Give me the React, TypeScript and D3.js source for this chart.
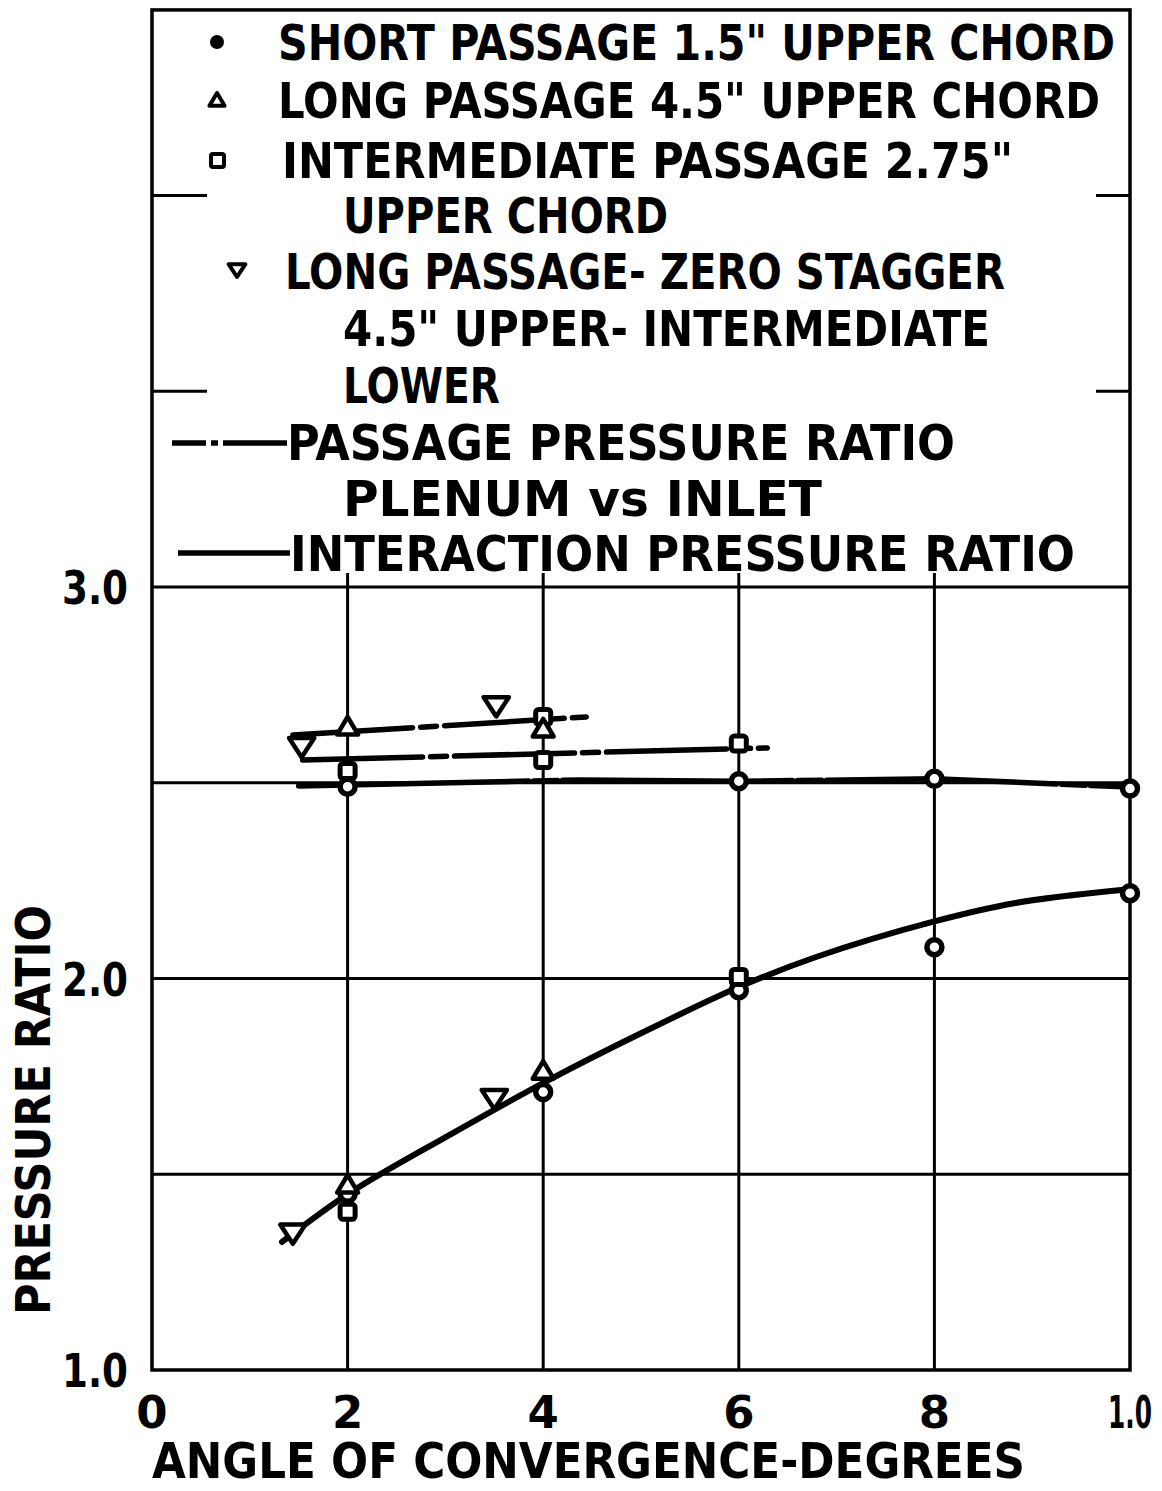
import React from "react";
import * as d3 from "d3";

// axis ticks
const xTicks = [0, 2, 4, 6, 8, 10];
const xTickLabels = ["0", "2", "4", "6", "8", "1.0"];
const yTicks = [1, 2, 3];
const yTickLabels = ["1.0", "2.0", "3.0"];
const yGrid = [1.5, 2, 2.5, 3];
const upperTicks = [3.5, 4.0];
const yTop = 4.474;

// measured points [angle, pressure ratio]
const shortPassage = [
  [2, 2.49], [6, 2.504], [8, 2.51], [10, 2.485],
  [2, 1.45], [4, 1.71], [6, 1.97], [8, 2.08], [10, 2.218],
];
const longPassage = [[2, 2.64], [4, 2.635], [2, 1.47], [4, 1.761]];
const intermediatePassage = [
  [2, 2.53], [4, 2.668], [4, 2.558], [6, 2.6], [2, 1.404], [6, 2.004],
];
const zeroStagger = [[1.53, 2.596], [3.52, 2.7], [1.44, 1.353], [3.5, 1.697]];

// passage pressure ratio (plenum vs inlet) lines
const passageLong = [[1.44, 2.622], [4.44, 2.668]];
const passageIntermediate = [[1.54, 2.558], [6.29, 2.589]];
const passageShort = [[1.5, 2.492], [4.37, 2.507], [6, 2.504], [8, 2.51], [10, 2.489]];

// interaction pressure ratio curve
const interaction = [
  [1.33, 1.327], [2.02, 1.452], [3.04, 1.6], [4.06, 1.741], [5.0, 1.86],
  [6.0, 1.978], [6.79, 2.055], [7.97, 2.144], [8.83, 2.193], [9.91, 2.226],
];

const legendRows = [
  { text: "SHORT PASSAGE 1.5\" UPPER CHORD", x: 278, y: 60, len: 837, mark: "circle" },
  { text: "LONG PASSAGE 4.5\" UPPER CHORD", x: 278, y: 118, len: 822, mark: "tri" },
  { text: "INTERMEDIATE PASSAGE  2.75\"", x: 282, y: 178, len: 731, mark: "square" },
  { text: "UPPER CHORD", x: 343, y: 233, len: 325 },
  { text: "LONG PASSAGE- ZERO STAGGER", x: 285, y: 289, len: 720, mark: "triDown" },
  { text: "4.5\" UPPER- INTERMEDIATE", x: 343, y: 346, len: 647 },
  { text: "LOWER", x: 343, y: 403, len: 157 },
  { text: "PASSAGE  PRESSURE  RATIO", x: 287, y: 460, len: 668, mark: "dash" },
  { text: "PLENUM  vs INLET", x: 343, y: 516, len: 479 },
  { text: "INTERACTION  PRESSURE  RATIO", x: 290, y: 571, len: 785, mark: "solid" },
];

const FONT = "'DejaVu Sans Condensed', 'DejaVu Sans', sans-serif";
const ink = "#000";

const triUp = (cx: number, cy: number, s: number) =>
  `M${cx},${cy - s} L${cx + s * 0.95},${cy + s * 0.6} L${cx - s * 0.95},${cy + s * 0.6} Z`;
const triDown = (cx: number, cy: number, s: number) =>
  `M${cx - s * 1.05},${cy - s * 0.6} L${cx + s * 1.05},${cy - s * 0.6} L${cx},${cy + s} Z`;

export default function App() {
  const x = d3.scaleLinear().domain([0, 10]).range([152, 1130]);
  const y = d3.scaleLinear().domain([1, 3]).range([1370, 587]);
  const line = d3.line<number[]>().x((d) => x(d[0])).y((d) => y(d[1]));
  const smooth = d3
    .line<number[]>()
    .x((d) => x(d[0]))
    .y((d) => y(d[1]))
    .curve(d3.curveCatmullRom.alpha(0.5));

  const top = y(yTop);
  const dashDot = "120,8,16,8";

  return (
    <svg
      width={1162}
      height={1491}
      style={{ position: "absolute", left: 0, top: 0, background: "#fff" }}
    >
      <rect width={1162} height={1491} fill="#fff" />

      {/* frame */}
      <rect
        x={x(0)}
        y={top}
        width={x(10) - x(0)}
        height={y(1) - top}
        fill="none"
        stroke={ink}
        strokeWidth={3.5}
      />

      {/* grid */}
      {yGrid.map((v) => (
        <line key={"h" + v} x1={x(0)} x2={x(10)} y1={y(v)} y2={y(v)} stroke={ink} strokeWidth={3} />
      ))}
      {xTicks.slice(1, -1).map((v) => (
        <line key={"v" + v} x1={x(v)} x2={x(v)} y1={y(1)} y2={y(3) - 14} stroke={ink} strokeWidth={3} />
      ))}
      {upperTicks.map((v) => (
        <g key={"t" + v}>
          <line x1={x(0)} x2={x(0) + 55} y1={y(v)} y2={y(v)} stroke={ink} strokeWidth={3} />
          <line x1={x(10) - 34} x2={x(10)} y1={y(v)} y2={y(v)} stroke={ink} strokeWidth={3} />
        </g>
      ))}

      {/* passage pressure ratio lines */}
      {[passageLong, passageIntermediate, passageShort].map((d, i) => (
        <path
          key={"p" + i}
          d={line(d) || ""}
          fill="none"
          stroke={ink}
          strokeWidth={5.5}
          strokeLinecap="round"
          strokeDasharray={i === 2 ? "230,5,24,5" : dashDot}
        />
      ))}

      {/* interaction curve */}
      <path d={smooth(interaction) || ""} fill="none" stroke={ink} strokeWidth={6} strokeLinecap="round" />

      {/* markers */}
      {shortPassage.map((d, i) => (
        <circle key={"c" + i} cx={x(d[0])} cy={y(d[1])} r={7.5} fill="#fff" stroke={ink} strokeWidth={5.5} />
      ))}
      {intermediatePassage.map((d, i) => (
        <rect key={"s" + i} x={x(d[0]) - 7.5} y={y(d[1]) - 7.5} width={15} height={15} rx={3} fill="#fff" stroke={ink} strokeWidth={5} />
      ))}
      {longPassage.map((d, i) => (
        <path key={"u" + i} d={triUp(x(d[0]), y(d[1]), 11)} fill="#fff" stroke={ink} strokeWidth={4.5} strokeLinejoin="round" />
      ))}
      {zeroStagger.map((d, i) => (
        <path key={"w" + i} d={triDown(x(d[0]), y(d[1]), 12)} fill="#fff" stroke={ink} strokeWidth={4.5} strokeLinejoin="round" />
      ))}

      {/* legend */}
      {legendRows.map((r) => (
        <g key={r.text}>
          <text
            x={r.x}
            y={r.y}
            fontFamily={FONT}
            fontWeight="bold"
            fontSize={50}
            textLength={r.len}
            lengthAdjust="spacingAndGlyphs"
            fill={ink}
          >
            {r.text}
          </text>
          {r.mark === "circle" && <circle cx={217} cy={r.y - 18} r={7} fill={ink} />}
          {r.mark === "tri" && (
            <path d={triUp(217, r.y - 17, 8)} fill="#fff" stroke={ink} strokeWidth={4} strokeLinejoin="round" />
          )}
          {r.mark === "square" && (
            <rect x={211} y={r.y - 24} width={13} height={13} rx={2} fill="#fff" stroke={ink} strokeWidth={4} />
          )}
          {r.mark === "triDown" && (
            <path d={triDown(237, r.y - 20, 8)} fill="#fff" stroke={ink} strokeWidth={4} strokeLinejoin="round" />
          )}
          {r.mark === "dash" && (
            <path
              d={`M172,${r.y - 17} L${r.x},${r.y - 17}`}
              stroke={ink}
              strokeWidth={5.5}
              strokeDasharray="34,5,7,5,80"
            />
          )}
          {r.mark === "solid" && (
            <line x1={178} x2={r.x} y1={r.y - 18} y2={r.y - 18} stroke={ink} strokeWidth={5.5} />
          )}
        </g>
      ))}

      {/* y tick labels */}
      {yTicks.map((v, i) => (
        <text
          key={"yl" + v}
          x={128}
          y={y(v) + 17}
          textAnchor="end"
          fontFamily="'DejaVu Sans', sans-serif"
          fontWeight="bold"
          fontSize={46}
          textLength={66}
          lengthAdjust="spacingAndGlyphs"
          fill={ink}
        >
          {yTickLabels[i]}
        </text>
      ))}

      {/* x tick labels */}
      {xTicks.map((v, i) => (
        <text
          key={"xl" + v}
          x={x(v)}
          y={1428}
          textAnchor="middle"
          fontFamily="'DejaVu Sans', sans-serif"
          fontWeight="bold"
          fontSize={45}
          textLength={i === 5 ? 44 : undefined}
          lengthAdjust="spacingAndGlyphs"
          fill={ink}
        >
          {xTickLabels[i]}
        </text>
      ))}

      {/* axis titles */}
      <text
        x={152}
        y={1478}
        fontFamily={FONT}
        fontWeight="bold"
        fontSize={50}
        textLength={873}
        lengthAdjust="spacingAndGlyphs"
        fill={ink}
      >
        ANGLE OF CONVERGENCE-DEGREES
      </text>
      <text
        transform="translate(50,1315) rotate(-90)"
        fontFamily={FONT}
        fontWeight="bold"
        fontSize={48}
        textLength={410}
        lengthAdjust="spacingAndGlyphs"
        fill={ink}
      >
        PRESSURE  RATIO
      </text>
    </svg>
  );
}
